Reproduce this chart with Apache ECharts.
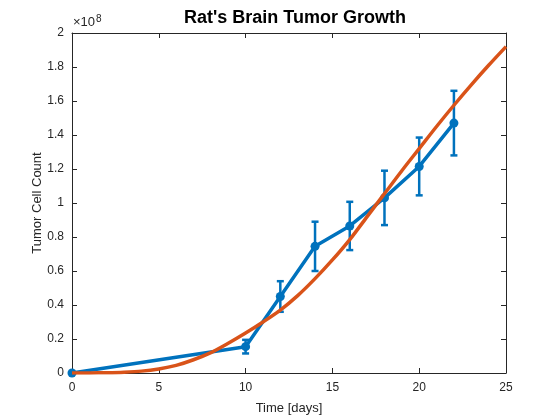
<!DOCTYPE html>
<html>
<head>
<meta charset="utf-8">
<script src="https://cdn.jsdelivr.net/npm/echarts@6/dist/echarts.min.js"></script>
<style>
html, body { margin: 0; padding: 0; background: #fff; }
#chart { width: 560px; height: 420px; }
</style>
</head>
<body>
<div id="chart"></div>
<script>
// measured data (x1e8 cells)
var days = [0, 10, 12, 14, 16, 18, 20, 22];
var meanCount = [0, 0.155, 0.45, 0.745, 0.865, 1.03, 1.215, 1.47];
var errCount = [0, 0.04, 0.09, 0.145, 0.142, 0.16, 0.17, 0.19];

// fitted model curve
var fitDays = [0, 1, 2, 3, 4, 5, 6, 7, 8, 9, 10, 11, 12, 13, 14, 15, 16, 17, 18, 19, 20, 21, 22, 23, 24, 25];
var fitCount = [0, 0.0005, 0.002, 0.005, 0.011, 0.024, 0.045, 0.078, 0.12, 0.175, 0.235, 0.30, 0.37, 0.455, 0.555, 0.665, 0.785, 0.92, 1.055, 1.19, 1.32, 1.45, 1.575, 1.695, 1.81, 1.92];

var xTicks = [0, 5, 10, 15, 20, 25];

var blue = '#0072BD';
var orange = '#D95319';
var axisColor = '#262626';
var font = 'Liberation Sans, Arial, sans-serif';

var meanData = days.map(function (d, i) { return [d, meanCount[i]]; });
var errData = days.map(function (d, i) { return [d, meanCount[i] - errCount[i], meanCount[i] + errCount[i]]; });
var fitData = fitDays.map(function (d, i) { return [d, fitCount[i]]; });

var chart = echarts.init(document.getElementById('chart'));

var baseAxis = {
    axisLine: {show: true, onZero: false, lineStyle: {color: axisColor, width: 1}},
    axisTick: {show: true, inside: true, length: 5, lineStyle: {color: axisColor}},
    splitLine: {show: false}
};

option = {
    animation: false,
    backgroundColor: '#fff',
    title: {
        text: "Rat's Brain Tumor Growth",
        left: 290,
        top: 4,
        textAlign: 'center',
        textStyle: {fontFamily: font, fontSize: 18, fontWeight: 'bold', color: '#000'}
    },
    grid: {left: 72, right: 54, top: 33, bottom: 47},
    xAxis: [
        Object.assign({}, baseAxis, {
            type: 'value', min: 0, max: 25, interval: 5,
            name: 'Time [days]', nameLocation: 'middle', nameGap: 29,
            nameTextStyle: {fontFamily: font, fontSize: 13, color: axisColor},
            axisLabel: {fontFamily: font, fontSize: 12, color: axisColor, margin: 9,
                formatter: function (v) { return xTicks.indexOf(v) >= 0 ? String(v) : ''; }}
        }),
        Object.assign({}, baseAxis, {
            type: 'value', min: 0, max: 25, interval: 5, position: 'top',
            axisLabel: {show: false}
        })
    ],
    yAxis: [
        Object.assign({}, baseAxis, {
            type: 'value', min: 0, max: 2, interval: 0.2,
            name: 'Tumor Cell Count', nameLocation: 'middle', nameGap: 28,
            nameMoveOverlap: false,
            nameTextStyle: {fontFamily: font, fontSize: 13, color: axisColor},
            axisLabel: {fontFamily: font, fontSize: 12, color: axisColor, margin: 8,
                formatter: function (v) { return String(Math.round(v * 10) / 10); }}
        }),
        Object.assign({}, baseAxis, {
            type: 'value', min: 0, max: 2, interval: 0.2, position: 'right',
            axisLabel: {show: false}
        })
    ],
    graphic: [{
        type: 'text',
        left: 73,
        top: 14,
        style: {
            text: '×10{s|8}',
            fontFamily: font,
            fontSize: 13,
            fill: axisColor,
            rich: {s: {fontFamily: font, fontSize: 10, fill: axisColor, verticalAlign: 'top', padding: [0, 0, 7, 1]}}
        }
    }],
    series: [
        {
            name: 'error',
            type: 'custom',
            z: 2,
            data: errData,
            renderItem: function (params, api) {
                var x = api.value(0);
                var lo = api.coord([x, api.value(1)]);
                var hi = api.coord([x, api.value(2)]);
                var cap = 3.5;
                var st = {stroke: blue, lineWidth: 2.5};
                return {
                    type: 'group',
                    children: [
                        {type: 'line', shape: {x1: lo[0], y1: lo[1], x2: hi[0], y2: hi[1]}, style: st},
                        {type: 'line', shape: {x1: lo[0] - cap, y1: lo[1], x2: lo[0] + cap, y2: lo[1]}, style: st},
                        {type: 'line', shape: {x1: hi[0] - cap, y1: hi[1], x2: hi[0] + cap, y2: hi[1]}, style: st}
                    ]
                };
            }
        },
        {
            name: 'measured',
            type: 'line',
            z: 3,
            data: meanData,
            symbol: 'circle',
            symbolSize: 9,
            itemStyle: {color: blue},
            lineStyle: {color: blue, width: 3.5}
        },
        {
            name: 'fit',
            type: 'line',
            z: 4,
            data: fitData,
            smooth: 0.3,
            showSymbol: false,
            lineStyle: {color: orange, width: 3.5}
        }
    ]
};

chart.setOption(option);
</script>
</body>
</html>
